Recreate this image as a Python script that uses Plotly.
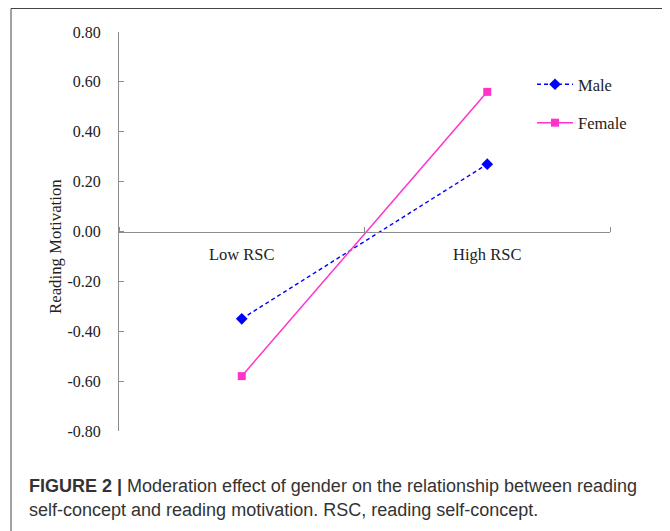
import plotly.graph_objects as go

categories = ["Low RSC", "High RSC"]
male = [-0.35, 0.27]
female = [-0.58, 0.56]
y_ticks = [0.80, 0.60, 0.40, 0.20, 0.00, -0.20, -0.40, -0.60, -0.80]
y_tick_labels = ["0.80", "0.60", "0.40", "0.20", "0.00", "-0.20", "-0.40", "-0.60", "-0.80"]
caption_line1 = "<b>FIGURE 2 |</b> Moderation effect of gender on the relationship between reading"
caption_line2 = "self-concept and reading motivation. RSC, reading self-concept."

# page body has an 8px margin; work in page coordinates and convert
OFF = 8
W, H = 670 - OFF, 531 - OFF
L, T = 119 - OFF, 32 - OFF
PW, PH = 491, 399
R, B = W - L - PW, H - T - PH

def px(x_page):
    return (x_page - OFF - L) / PW

def py(y_page):
    return (H - B - (y_page - OFF)) / PH

serif = "Liberation Serif, Times New Roman, serif"
sans = "Liberation Sans, Arial, sans-serif"
axis_color = "#8c8c8c"

xpos = list(range(len(categories)))

fig = go.Figure()
fig.add_trace(go.Scatter(
    x=xpos, y=male, name="Male", mode="lines+markers",
    line=dict(color="#0000ff", width=1.4, dash="4px,3px"),
    marker=dict(symbol="diamond", size=9, color="#0000ff"),
    legendgroup="m",
))
fig.add_trace(go.Scatter(
    x=xpos, y=female, name="Female", mode="lines+markers",
    line=dict(color="#ff33cc", width=1.5),
    marker=dict(symbol="square", size=8, color="#ff33cc"),
    legendgroup="f",
))

fig.update_layout(
    width=W, height=H,
    margin=dict(l=L, r=R, t=T, b=B),
    paper_bgcolor="white", plot_bgcolor="white",
    showlegend=True,
    legend=dict(
        x=px(532), y=py(67), xanchor="left", yanchor="top",
        font=dict(family=serif, size=16.5, color="#222"),
        bgcolor="rgba(0,0,0,0)", tracegroupgap=14,
        traceorder="grouped", itemwidth=36,
    ),
    xaxis=dict(
        range=[-0.5, len(categories) - 0.5],
        anchor="free", position=0.5,
        showline=True, linecolor=axis_color, linewidth=1,
        ticks="", tickvals=xpos, ticktext=categories,
        tickfont=dict(family=serif, size=16.5, color="#222"),
        ticklabelstandoff=8,
        minor=dict(tickvals=[i - 0.5 for i in range(len(categories) + 1)],
                   ticks="inside", ticklen=5, tickcolor=axis_color, showgrid=False),
        showgrid=False, zeroline=False,
    ),
    yaxis=dict(
        range=[-0.8, 0.8],
        showline=True, linecolor=axis_color, linewidth=1,
        ticks="inside", ticklen=5, tickcolor=axis_color,
        tickvals=y_ticks, ticktext=y_tick_labels,
        tickfont=dict(family=serif, size=16, color="#222"),
        ticklabelstandoff=14,
        showgrid=False, zeroline=False,
    ),
    shapes=[
        dict(type="rect", xref="paper", yref="paper",
             x0=px(11), x1=px(668), y0=py(560), y1=py(8.5),
             line=dict(color="#444444", width=1), fillcolor="rgba(0,0,0,0)", layer="below"),
    ],
    annotations=[
        dict(text="Reading Motivation", xref="paper", yref="paper",
             x=px(55.5), y=py(246.5), textangle=-90, showarrow=False,
             xanchor="center", yanchor="middle",
             font=dict(family=serif, size=16.8, color="#222")),
        dict(text=caption_line1, xref="paper", yref="paper",
             x=px(27), y=py(486), xanchor="left", yanchor="middle", showarrow=False,
             font=dict(family=sans, size=18, color="#333")),
        dict(text=caption_line2, xref="paper", yref="paper",
             x=px(27), y=py(510), xanchor="left", yanchor="middle", showarrow=False,
             font=dict(family=sans, size=18, color="#333")),
    ],
)

fig.write_html("out.html")
